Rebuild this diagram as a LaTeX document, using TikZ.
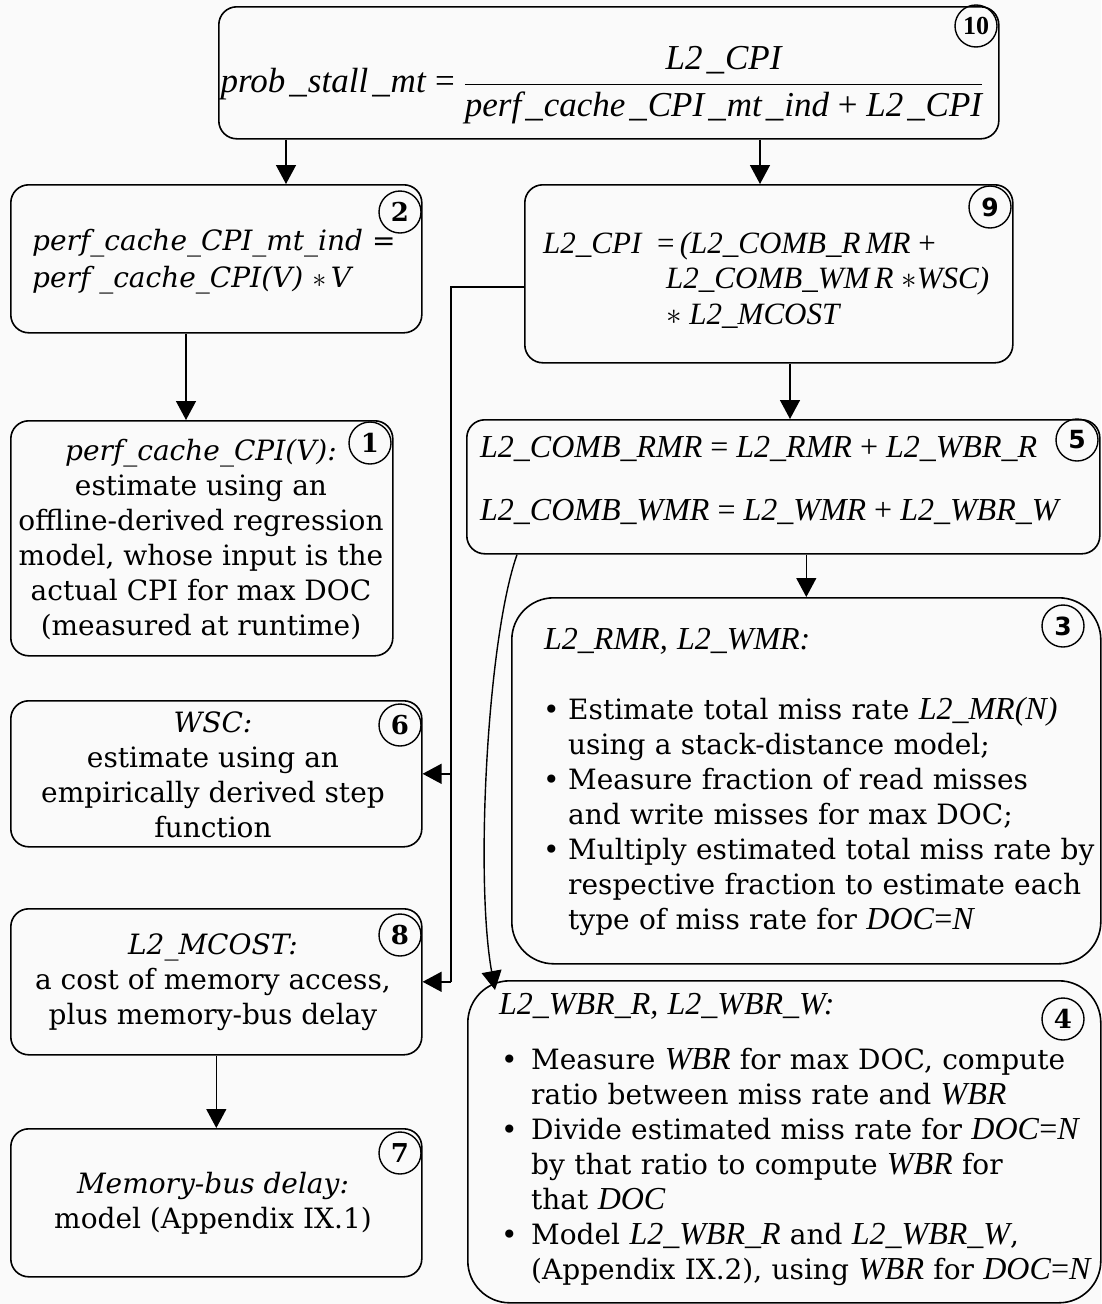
\documentclass[tikz,border=0pt]{standalone}
\usepackage{fix-cm}
\usepackage{fontspec}
\setmainfont{DejaVu Serif}
\newfontfamily\fmlafont{Liberation Serif}
\newfontfamily\numsans{DejaVu Sans}
\usetikzlibrary{arrows.meta,positioning}
\definecolor{bg}{RGB}{250,250,250}
\newcommand{\fm}{\fontsize{32}{35}\fmlafont\itshape}
\newcommand{\us}{\kern4pt\_\kern1pt}
\newcommand{\bitem}[3]{\par\hangindent=#1\hangafter=1\noindent\makebox[#1][l]{\hspace{#2}\textbullet}#3\par}
\tikzset{
  box/.style={draw, line width=1.6pt, rounded corners=18pt, inner sep=0pt, anchor=north west},
  bigbox/.style={box, rounded corners=42pt},
  body/.style={inner sep=0pt, font=\fontsize{28}{35}\selectfont, align=center},
  fmla/.style={inner sep=0pt, font=\fontsize{32}{34}\fmlafont\itshape},
  num/.style={draw, circle, line width=1.4pt, minimum size=42pt, inner sep=0pt, font=\fontsize{26}{26}\selectfont\bfseries},
  numsf/.style={num, font=\fontsize{25}{25}\numsans\bfseries},
  arr/.style={line width=1.4pt, -{Triangle[length=19pt,width=20pt]}}
}

\begin{document}
\begin{tikzpicture}[x=1pt,y=-1pt]
\useasboundingbox (0,0) rectangle (1101,1304);
\fill[bg] (0,0) rectangle (1101,1304);
% boxes
\node[box, minimum width=780pt, minimum height=132pt] (b10) at (218,6) {};
\node[box, minimum width=411pt, minimum height=148pt] (b2) at (10,184) {};
\node[box, minimum width=488pt, minimum height=178pt] (b9) at (524,184) {};
\node[box, minimum width=382pt, minimum height=235pt] (b1) at (10,420) {};
\node[box, minimum width=633pt, minimum height=134pt] (b5) at (466,419) {};
\node[bigbox, minimum width=589pt, minimum height=366pt] (b3) at (511,597) {};
\node[bigbox, minimum width=633pt, minimum height=322pt] (b4) at (467,980) {};
\node[box, minimum width=411pt, minimum height=146pt] (b6) at (10,700) {};
\node[box, minimum width=411pt, minimum height=146pt] (b8) at (10,908) {};
\node[box, minimum width=411pt, minimum height=148pt] (b7) at (10,1128) {};
% texts
\node[fmla, font=\fontsize{35}{40}\fmlafont\itshape] (t10) at (602,85)
  {prob\us stall\us mt \textup{=} $\displaystyle\frac{\mbox{L2\us CPI}}{\mbox{perf\us cache\us CPI\us mt\us ind \textup{+} L2\us CPI}}$};
\node[body, align=left, anchor=west] (t2) at (32,262)
  {{\itshape perf\_cache\_CPI\_mt\_ind} =\\[2pt] {\itshape perf \_cache\_CPI(V)} $\ast$\,{\itshape V}};
\node[fmla, font=\fontsize{31}{35.5}\fmlafont\itshape, align=left, anchor=west] (t9) at (543,280)
  {L2\_CPI\hspace{8pt} \textup{=}\,(L2\_COMB\_R\,MR \textup{+}\\ \hspace*{123pt}L2\_COMB\_WM\,R $\ast$WSC)\\ \hspace*{123pt}$\ast$ L2\_MCOST};
\node[body] (t1) at (201,540)
  {{\itshape perf\_cache\_CPI(V):}\\ estimate using an\\ offline-derived regression\\ model, whose input is the\\ actual CPI for max DOC\\ (measured at runtime)};
\node[fmla, align=left, anchor=west] (t5) at (480,480)
  {L2\_COMB\_RMR \textup{=} L2\_RMR \textup{+} L2\_WBR\_R\\[29pt] L2\_COMB\_WMR \textup{=} L2\_WMR \textup{+} L2\_WBR\_W};
\node[body, align=left, anchor=west, text width=600pt] (t3) at (544,782)
  {{\fm L2\_RMR, L2\_WMR:}\par\vspace{35pt}
   \bitem{24pt}{-1pt}{Estimate total miss rate {\fm L2\_MR(N)}\newline using a stack-distance model;}
   \bitem{24pt}{-1pt}{Measure fraction of read misses\newline and write misses for max DOC;}
   \bitem{24pt}{-1pt}{Multiply estimated total miss rate by\newline respective fraction to estimate each\newline type of miss rate for {\fm DOC\textup{=}N}}};
\node[body, align=left, anchor=west, text width=620pt] (t4) at (499,1140)
  {{\fm L2\_WBR\_R, L2\_WBR\_W:}\par\vspace{20pt}
   \bitem{32pt}{2pt}{Measure {\fm WBR} for max DOC, compute\newline ratio between miss rate and {\fm WBR}}
   \bitem{32pt}{2pt}{Divide estimated miss rate for {\fm DOC\textup{=}N}\newline by that ratio to compute {\fm WBR} for\newline that {\fm DOC}}
   \bitem{32pt}{2pt}{Model {\fm L2\_WBR\_R} and {\fm L2\_WBR\_W},\newline (Appendix IX.2), using {\fm WBR} for {\fm DOC\textup{=}N}}};
\node[body] (t6) at (213,775)
  {{\itshape WSC:}\\ estimate using an\\ empirically derived step\\ function};
\node[body] (t8) at (213,982)
  {{\itshape L2\_MCOST:}\\ a cost of memory access,\\ plus memory-bus delay};
\node[body] (t7) at (213,1203)
  {{\itshape Memory-bus delay:}\\ model (Appendix IX.1)};
% step numbers
\node[num, font=\fontsize{26}{26}\fmlafont\bfseries] (n10) at (976,26) {10};
\foreach \n/\x/\y in {9/990/207, 5/1077/440, 3/1063/626}
  \node[numsf] (n\n) at (\x,\y) {\n};
\foreach \n/\x/\y in {2/400/212, 1/370/443, 6/400/725, 8/400/935, 7/400/1153, 4/1063/1019}
  \node[num] (n\n) at (\x,\y) {\n};
% connectors
\draw[arr] (286,0 |- b10.south) -- (286,0 |- b2.north);
\draw[arr] (760,0 |- b10.south) -- (760,0 |- b9.north);
\draw[arr] (186,0 |- b2.south) -- (186,0 |- b1.north);
\draw[arr] (790,0 |- b9.south) -- (790,0 |- b5.north);
\draw[arr] (b3.north |- b5.south) -- (b3.north);
\draw[arr] (b8.south) -- (b7.north);
\draw[line width=1.4pt] (b9.west |- 0,287) -- (451,287) -- (451,0 |- b8.east);
\foreach \t in {b6,b8}
  \draw[arr] (451,0 |- \t.east) -- (\t.east);
\coordinate (e4) at (495,990);
\draw[arr] ([xshift=51pt]b5.south west) .. controls (487,640) and (475,880) .. (e4);
\end{tikzpicture}
\end{document}
